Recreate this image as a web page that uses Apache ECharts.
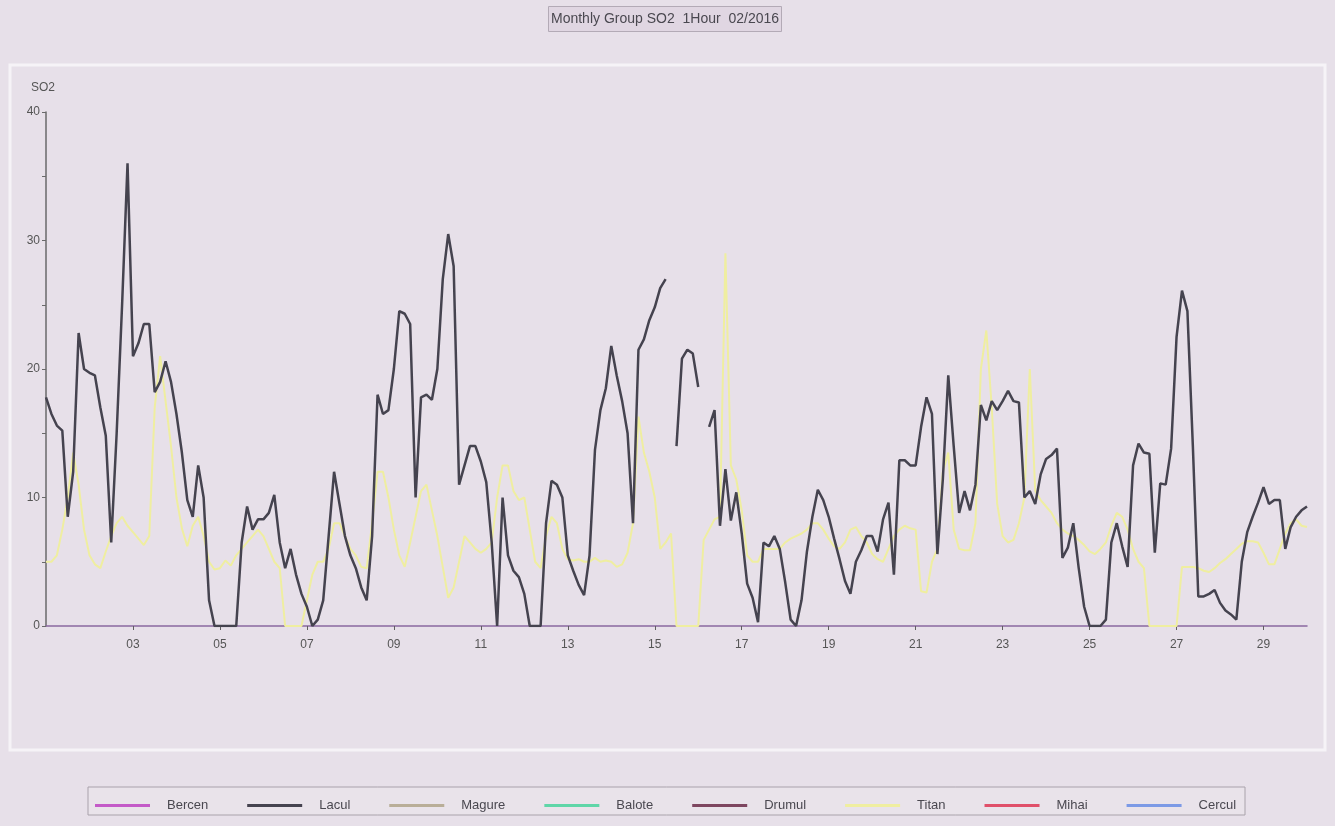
<!DOCTYPE html>
<html><head><meta charset="utf-8">
<script src="https://cdn.jsdelivr.net/npm/echarts@6/dist/echarts.min.js"></script>
<style>html,body{margin:0;padding:0;background:#e7e0e9}#c{width:1335px;height:826px}</style>
</head><body><div id="c"></div>
<script>
// Stations (legend order)
const stations = ['Bercen','Lacul','Magure','Balote','Drumul','Titan','Mihai','Cercul'];
// hours between samples
const stepHours = 3;
// X tick labels (days of Feb 2016)
const tickDays = ['03','05','07','09','11','13','15','17','19','21','23','25','27','29'];
// Lacul SO2, 3-hourly from 01 00:00 to 30 00:00 (null = no data)
const lacul = [
17.8,16.5,15.6,15.2,8.5,12,22.8,20,
19.7,19.5,17,14.8,6.5,15,25,36,
21,22,23.5,23.5,18.2,19,20.6,19,
16.5,13.5,9.8,8.5,12.5,10,2,0,
0,0,0,0,6.5,9.3,7.5,8.3,
8.3,8.8,10.2,6.5,4.5,6,4,2.5,
1.5,0,0.5,2,7,12,9.5,7,
5.5,4.5,3,2,7,18,16.5,16.8,
20,24.5,24.3,23.5,10,17.8,18,17.6,
20,27,30.5,28,11,12.5,14,14,
12.8,11.2,6.5,0,10,5.5,4.3,3.8,
2.5,0,0,0,8,11.3,11,10,
5.5,4.3,3.2,2.4,5.5,13.7,16.8,18.5,
21.8,19.5,17.5,15,8,21.5,22.3,23.8,
24.8,26.3,27,null,14,20.8,21.5,21.2,
18.6,null,15.5,16.8,7.8,12.2,8.2,10.4,
7.2,3.3,2.2,0.3,6.5,6.2,7,6,
3.4,0.5,0,2,5.8,8.5,10.6,9.8,
8.5,6.8,5.2,3.5,2.5,5,5.9,7,
7,5.8,8.3,9.6,4,12.9,12.9,12.5,
12.5,15.5,17.8,16.5,5.6,11.4,19.5,14,
8.8,10.5,9,11,17.2,16,17.5,16.8,
17.5,18.3,17.5,17.4,10,10.5,9.5,11.8,
13,13.3,13.8,5.3,6.1,8,4.5,1.5,
0,0,0,0.5,6.5,8,6.2,4.6,
12.5,14.2,13.5,13.4,5.7,11.1,11,13.8,
22.5,26.1,24.5,14,2.3,2.3,2.5,2.8,
1.8,1.2,0.9,0.5,5,7.3,8.5,9.6,
10.8,9.5,9.8,9.8,6,7.7,8.5,9,
9.3
];
// Titan SO2, 3-hourly
const titan = [
5,5,5.5,7.5,10,13.5,11,7.5,
5.5,4.8,4.5,5.8,7,8,8.5,7.8,
7.3,6.8,6.3,7,17,21,17.5,14,
10,7.6,6.2,7.8,8.5,7,5,4.4,
4.5,5.1,4.7,5.5,6,6.5,7,7.5,
7,6,5,4.5,0,0,0,0,
2,4,5,5,6,8,8,7,
6,5.5,4.6,4.5,8,12,12,10,
7.5,5.5,4.6,6.5,8.5,10.5,11,9,
7,4.6,2.2,3,5,7,6.5,6,
5.7,6,6.5,10,12.5,12.5,10.5,9.8,
10,7.5,5,4.5,7,8.5,8,6,
5.2,5.1,5.2,5,5,5.3,5,5.1,
5,4.6,4.8,5.7,8,16.3,13.5,12,
10,6,6.5,7.2,0,0,0,0,
0,6.7,7.5,8.3,8.5,29,12.5,11.4,
9,5.5,5,5,6,6,6,6,
6.5,6.8,7,7.2,7.5,8,8,7.5,
6.8,6.2,6,6.5,7.5,7.7,7,6.5,
5.6,5.2,5,6,7,7.5,7.8,7.6,
7.5,2.7,2.6,5,6,12,13.5,7.5,
6,5.9,5.9,8,20,23,17,9.5,
7,6.5,6.7,8,10,20,10.5,9.8,
9.3,8.8,8,7.5,7.2,7,6.7,6.3,
5.8,5.6,6,6.5,7.8,8.8,8.5,7.5,
6,5,4.5,0,0,0,0,0,
0,4.6,4.6,4.6,4.5,4.3,4.2,4.5,
4.9,5.2,5.6,6,6.4,6.6,6.6,6.5,
5.7,4.8,4.8,6,7.2,8,8.3,7.8,
7.7
];

const colors = {Bercen:'#c45ac8',Lacul:'#45434f',Magure:'#b9ae98',Balote:'#5fd6a8',Drumul:'#7e4660',Titan:'#efeea0',Mihai:'#e0506a',Cercul:'#7c9ae6'};
const toPairs = arr => arr.map((v,i)=>[i*stepHours, v]);
const tickHours = tickDays.map(d => (parseInt(d,10)-1)*24);
const totalHours = (lacul.length-1)*stepHours;

const series = stations.map(name => {
  let data = [];
  if (name==='Lacul') data = toPairs(lacul);
  if (name==='Titan') data = toPairs(titan);
  return {
    name, type:'line', data, showSymbol:false, symbol:'none', connectNulls:false,
    lineStyle:{color:colors[name], width: name==='Lacul'?2.5:(name==='Titan'?2:1.5)},
    itemStyle:{color:colors[name]},
    z: name==='Lacul'?5:(name==='Titan'?3:2),
    animation:false
  };
});

const chart = echarts.init(document.getElementById('c'), null, {renderer:'canvas'});
chart.setOption({
  backgroundColor:'#e7e0e9',
  animation:false,
  title:{
    text:'Monthly Group SO2  1Hour  02/2016',
    left:548, top:6,
    padding:[6,3,6,3],
    backgroundColor:'#e0d6e2',
    borderColor:'#b3aab6', borderWidth:1,
    textStyle:{fontFamily:'Liberation Sans, Arial',fontSize:14,fontWeight:'normal',color:'#4a4850'}
  },
  graphic:[
    {type:'rect', shape:{x:10,y:65,width:1315,height:685}, style:{fill:'none', stroke:'#f6f3f7', lineWidth:3}, z:0},
    {type:'rect', shape:{x:88,y:787,width:1157,height:28}, style:{fill:'#e9e3ea', stroke:'#a9a2ab', lineWidth:1}, z:0}
  ],
  legend:{
    data:stations,
    left:90, top:794,
    itemWidth:55, itemHeight:3, itemGap:39,
    icon:'rect',
    textStyle:{fontFamily:'Liberation Sans, Arial',fontSize:13,color:'#4a4850',padding:[0,0,0,12]}
  },
  grid:{left:46, right:28, top:112, bottom:200, containLabel:false},
  xAxis:{
    type:'value', min:0, max:totalHours,
    axisLine:{lineStyle:{color:'#8a68a0', width:1.5}},
    axisTick:{customValues:tickHours, length:4, lineStyle:{color:'#606060'}},
    axisLabel:{customValues:tickHours, formatter:v=>{const d=Math.round(v/24)+1;return (d<10?'0':'')+d;}, fontFamily:'Liberation Sans, Arial', fontSize:12, color:'#555', margin:13},
    splitLine:{show:false}
  },
  yAxis:{
    type:'value', min:0, max:40, interval:5,
    name:'SO2', nameLocation:'end', nameGap:18,
    nameTextStyle:{fontFamily:'Liberation Sans, Arial', fontSize:12, color:'#555', padding:[0,6,0,0]},
    axisLine:{show:true, lineStyle:{color:'#6a6a6a', width:1.5}},
    axisTick:{show:true, length:4, lineStyle:{color:'#6a6a6a'}},
    axisLabel:{formatter:v=> v%10===0 ? String(v) : '', fontFamily:'Liberation Sans, Arial', fontSize:12, color:'#555', margin:6},
    splitLine:{show:false}
  },
  series
});
</script>
</body></html>
